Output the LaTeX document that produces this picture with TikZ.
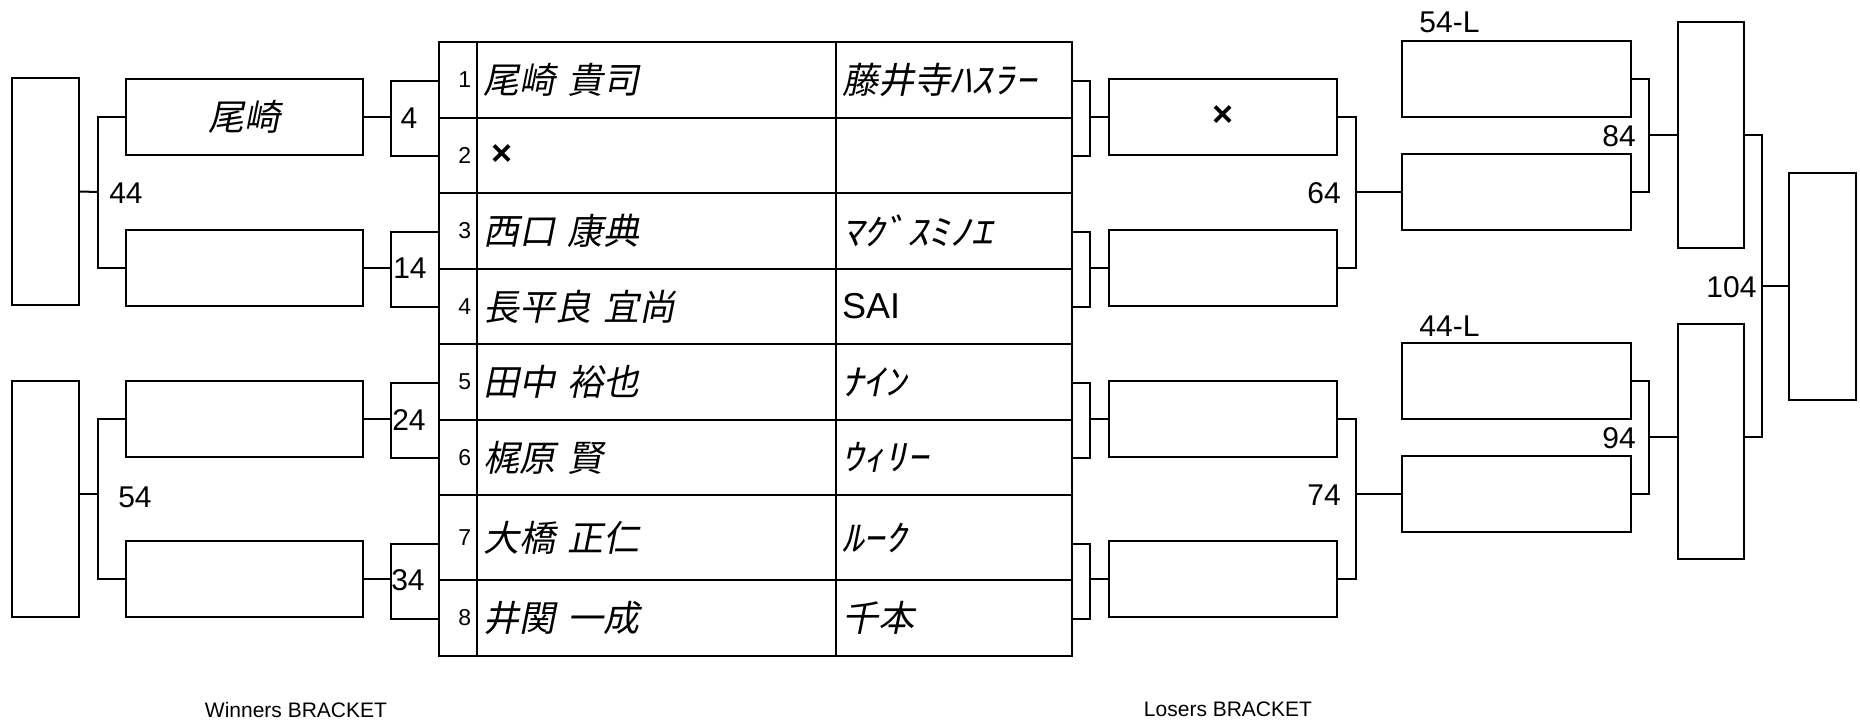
\documentclass[tikz,border=0pt]{standalone}
\usepackage{fontspec}
\setmainfont{Liberation Sans}
\newfontfamily\jp[FakeSlant=0.2]{Noto Sans CJK JP}
\newfontfamily\kana[FakeSlant=0.2, FakeStretch=1.2]{Noto Sans CJK JP}
\begin{document}
\begin{tikzpicture}[x=0.5pt, y=-0.5pt, line width=1pt,
  cell/.style={draw, line width=1.2pt, anchor=north west, inner xsep=3pt, inner ysep=0pt, minimum height=37.75pt},
  numcell/.style={cell, text width=13pt, align=right, font=\fontsize{11.5}{11.5}\selectfont},
  playercell/.style={cell, text width=173.5pt, align=left, font=\jp\fontsize{18}{20}\selectfont},
  teamcell/.style={cell, text width=112pt, align=left, font=\jp\fontsize{18}{20}\selectfont},
  slot/.style={draw, inner sep=0pt, minimum height=38pt, minimum width=#1},
  post/.style={draw, inner sep=0pt, minimum width=33.5pt, minimum height=#1},
  lab/.style={inner sep=0pt, font=\fontsize{15}{15}\selectfont},
  caption/.style={inner sep=0pt, font=\fontsize{10.5}{10.5}\selectfont}]
\useasboundingbox (0,0) rectangle (1860,723);
\node[numcell] (n1) at (438,41) {1};
\node[playercell] (p1) at (476,41) {尾崎 貴司};
\node[teamcell] (t1) at (835,41) {藤井寺{\kana ﾊｽﾗｰ}};
\node[numcell] (n2) at (438,116.5) {2};
\node[playercell] (p2) at (476,116.5) {\rmfamily\bfseries\hspace*{4pt}×};
\node[teamcell] (t2) at (835,116.5) {};
\node[numcell] (n3) at (438,192) {3};
\node[playercell] (p3) at (476,192) {西口 康典};
\node[teamcell] (t3) at (835,192) {\kana ﾏｸﾞｽﾐﾉｴ};
\node[numcell] (n4) at (438,267.5) {4};
\node[playercell] (p4) at (476,267.5) {長平良 宜尚};
\node[teamcell] (t4) at (835,267.5) {\rmfamily SAI};
\node[numcell] (n5) at (438,343) {5};
\node[playercell] (p5) at (476,343) {田中 裕也};
\node[teamcell] (t5) at (835,343) {\kana ﾅｲﾝ};
\node[numcell] (n6) at (438,418.5) {6};
\node[playercell] (p6) at (476,418.5) {梶原 賢};
\node[teamcell] (t6) at (835,418.5) {\kana ｳｨﾘｰ};
\node[numcell, minimum height=42.5pt] (n7) at (438,494) {7};
\node[playercell, minimum height=42.5pt] (p7) at (476,494) {大橋 正仁};
\node[teamcell, minimum height=42.5pt] (t7) at (835,494) {\kana ﾙｰｸ};
\node[numcell] (n8) at (438,579) {8};
\node[playercell] (p8) at (476,579) {井関 一成};
\node[teamcell] (t8) at (835,579) {千本};

\node[post=113.5pt] (wfin1) at (45.5,191.5) {};
\node[post=118pt] (wfin2) at (45.5,499) {};
\node[slot=118.5pt, font=\jp\fontsize{18}{20}\selectfont] (w44a) at (244.5,116.5) {尾崎};
\node[slot=118.5pt] (w44b) at (244.5,267.5) {};
\node[slot=118.5pt] (w54a) at (244.5,418.5) {};
\node[slot=118.5pt] (w54b) at (244.5,579) {};

\coordinate (j4) at (391,116.5);
\coordinate (j14) at (391,267.5);
\coordinate (j24) at (391,418.5);
\coordinate (j34) at (391,579);
\draw ([yshift=18.75pt]n1.south west) -| (j4) |- ([yshift=-18.75pt]n1.south west);
\draw ([yshift=18.75pt]n3.south west) -| (j14) |- ([yshift=-18.75pt]n3.south west);
\draw ([yshift=18.75pt]n5.south west) -| (j24) |- ([yshift=-18.75pt]n5.south west);
\draw ([yshift=18.75pt]n7.south west) -| (j34) |- ([yshift=-18.75pt]n7.south west);
\draw (j4) -- (w44a.east);
\draw (j14) -- (w44b.east);
\draw (j24) -- (w54a.east);
\draw (j34) -- (w54b.east);
\node[lab] (m4) at (409,118) {4};
\node[lab] (m14) at (410,268.5) {14};
\node[lab] (m24) at (409,420) {24};
\node[lab] (m34) at (408,580) {34};

\coordinate (j44) at (98,192);
\coordinate (j54) at (98,494);
\draw (w44a.west) -| (j44) |- (w44b.west);
\draw (w54a.west) -| (j54) |- (w54b.west);
\draw (j44) -- (wfin1.east);
\draw (j54) -- (wfin2.east |- j54);
\node[lab] (m44) at (126,193) {44};
\node[lab] (m54) at (135,497) {54};

\node[slot=114pt, font=\bfseries\fontsize{18}{20}\selectfont] (l1) at (1223,116.5) {×};
\node[slot=114pt] (l2) at (1223,267.5) {};
\node[slot=114pt] (l3) at (1223,418.5) {};
\node[slot=114pt] (l4) at (1223,579) {};
\coordinate (k1) at (1090,116.5);
\coordinate (k2) at (1090,267.5);
\coordinate (k3) at (1090,418.5);
\coordinate (k4) at (1090,579);
\draw ([yshift=18.75pt]t1.south east) -| (k1) |- ([yshift=-18.75pt]t1.south east);
\draw ([yshift=18.75pt]t3.south east) -| (k2) |- ([yshift=-18.75pt]t3.south east);
\draw ([yshift=18.75pt]t5.south east) -| (k3) |- ([yshift=-18.75pt]t5.south east);
\draw ([yshift=18.75pt]t7.south east) -| (k4) |- ([yshift=-18.75pt]t7.south east);
\draw (k1) -- (l1.west);
\draw (k2) -- (l2.west);
\draw (k3) -- (l3.west);
\draw (k4) -- (l4.west);

\node[slot=114.5pt] (l54L) at (1516.5,78.5) {};
\node[slot=114.5pt] (l64) at (1516.5,192) {};
\node[slot=114.5pt] (l44L) at (1516.5,380.5) {};
\node[slot=114.5pt] (l74) at (1516.5,494) {};
\node[lab] (m54L) at (1449.5,22.5) {54-L};
\node[lab] (m44L) at (1449.5,326) {44-L};
\coordinate (j64) at (1356,192);
\coordinate (j74) at (1356,494);
\draw (l1.east) -| (j64) |- (l2.east);
\draw (l3.east) -| (j74) |- (l4.east);
\draw (j64) -- (l64.west);
\draw (j74) -- (l74.west);
\node[lab] (m64) at (1324,193) {64};
\node[lab] (m74) at (1324,495) {74};

\node[post=113.25pt, minimum width=33pt] (w84) at (1710.5,135) {};
\node[post=117.75pt, minimum width=33pt] (w94) at (1710.5,441.25) {};
\coordinate (j84) at (1649,135);
\coordinate (j94) at (1649,437);
\draw (l54L.east) -| (j84) |- (l64.east);
\draw (l44L.east) -| (j94) |- (l74.east);
\draw (j84) -- (w84.west);
\draw (j94) -- (w94.west |- j94);
\node[lab] (m84) at (1619,136) {84};
\node[lab] (m94) at (1619,438) {94};

\node[post=113.5pt] (fin) at (1822.5,286) {};
\coordinate (j104) at (1762,286);
\draw (w84.east) -| (j104) |- (w94.east |- j94);
\draw (j104) -- (fin.west);
\node[lab] (m104) at (1731.5,287.5) {104};

\node[caption] (wb) at (296,709.5) {Winners BRACKET};
\node[caption] (lb) at (1228,709.5) {Losers BRACKET};
\end{tikzpicture}
\end{document}
